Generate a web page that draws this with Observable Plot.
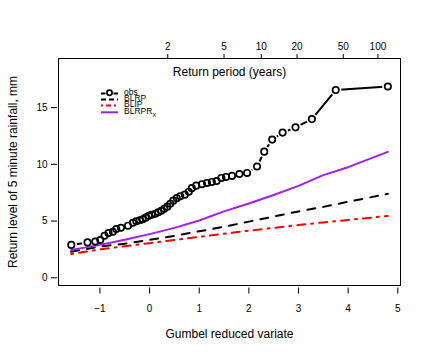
<!DOCTYPE html>
<html><head><meta charset="utf-8">
<script src="https://cdn.jsdelivr.net/npm/d3@7"></script>
<script src="https://cdn.jsdelivr.net/npm/@observablehq/plot@0.6"></script>
<style>body{margin:0;background:#fff} #chart{position:relative;width:431px;height:359px}</style>
</head><body><div id="chart"></div>
<script>
// Observed annual maxima (Gumbel reduced variate, return level mm)
const obsU = [-1.577,-1.25,-1.095,-0.994,-0.907,-0.827,-0.738,-0.671,-0.577,-0.435,-0.335,-0.268,-0.198,-0.137,-0.077,-0.016,0.044,0.115,0.175,0.236,0.296,0.357,0.417,0.478,0.548,0.619,0.71,0.79,0.85,0.94,1.056,1.157,1.254,1.35,1.446,1.54,1.66,1.81,1.964,2.165,2.31,2.47,2.68,2.94,3.27,3.75,4.80];
const obsLevel = [2.90,3.12,3.20,3.33,3.71,3.95,4.06,4.30,4.41,4.59,4.85,4.99,5.07,5.16,5.30,5.47,5.56,5.65,5.78,5.91,6.09,6.27,6.53,6.80,7.02,7.19,7.33,7.59,7.90,8.12,8.25,8.36,8.45,8.53,8.80,8.89,8.98,9.15,9.24,9.81,11.12,12.18,12.80,13.26,13.99,16.55,16.86];
// Fitted model curves
const fitU = [-1.58,-1,-0.5,0,0.5,1,1.5,2,2.5,3,3.5,4,4.8];
const blrpLevel = [2.3,2.75,3.0,3.35,3.7,4.1,4.5,4.95,5.4,5.85,6.25,6.7,7.4];
const blipLevel = [2.1,2.5,2.78,3.05,3.33,3.6,3.88,4.15,4.4,4.65,4.88,5.1,5.45];
const blrprxLevel = [2.45,2.9,3.35,3.85,4.4,5.05,5.85,6.55,7.3,8.1,9.05,9.75,11.1];
const seriesNames = ["obs","BLRP","BLIP","BLRPR"];
const xTicks = [-1,0,1,2,3,4,5];
const yTicks = [0,5,10,15];
const periodTicks = [2,5,10,20,50,100];

const gumbel = T => -Math.log(-Math.log(1 - 1/T));
const periodOf = u => Math.round(1/(1 - Math.exp(-Math.exp(-u))));

const obs = obsU.map((u,i) => ({u, v: obsLevel[i]}));
const mk = arr => fitU.map((u,i) => ({u, v: arr[i]}));
const blrp = mk(blrpLevel), blip = mk(blipLevel), blrprx = mk(blrprxLevel);

const font = "'Liberation Sans', Arial, Helvetica, sans-serif";
const plot = Plot.plot({
  width: 431, height: 359,
  marginLeft: 58, marginRight: 31, marginTop: 58, marginBottom: 74,
  style: {fontFamily: font, fontSize: "10px", background: "#fff", color: "#000", overflow: "visible"},
  x: {domain: [-1.835, 5.055]},
  y: {domain: [-0.68, 19.33]},
  marks: [
    Plot.frame({stroke: "#000", strokeWidth: 1}),
    Plot.axisX(xTicks, {anchor: "bottom", tickSize: 6, dy: 2.5, tickPadding: 11, label: null, fontSize: 10}),
    Plot.axisX(periodTicks.map(gumbel), {anchor: "top", tickSize: 5, tickPadding: 4, label: null, fontSize: 10, tickFormat: periodOf}),
    Plot.axisY(yTicks, {anchor: "left", tickSize: 6, dx: -1, tickPadding: 4, label: null, fontSize: 10}),
    Plot.text(["Gumbel reduced variate"], {frameAnchor: "bottom", dy: 52, fontSize: 12}),
    Plot.text(["Return period (years)"], {frameAnchor: "top", dy: 8.7, fontSize: 12}),
    Plot.text(["Return level of 5 minute rainfall, mm"], {frameAnchor: "left", dx: -45, rotate: -90, textAnchor: "middle", fontSize: 12}),
    Plot.line(obs, {x: "u", y: "v", stroke: "#000", strokeWidth: 2}),
    Plot.dot(obs, {x: "u", y: "v", r: 3.2, fill: "#fff", stroke: "#fff", strokeWidth: 5}),
    Plot.line(blip, {x: "u", y: "v", stroke: "#ff0000", strokeWidth: 2, strokeDasharray: "2,6,8,6"}),
    Plot.line(blrp, {x: "u", y: "v", stroke: "#000", strokeWidth: 2, strokeDasharray: "8,8"}),
    Plot.line(blrprx, {x: "u", y: "v", stroke: "#A020F0", strokeWidth: 2}),
    Plot.dot(obs, {x: "u", y: "v", r: 3.2, fill: "none", stroke: "#000", strokeWidth: 1.7})
  ]
});
document.getElementById("chart").appendChild(plot);

// Legend (top-left inside the plot)
const svg = d3.select(plot);
const lg = svg.append("g").attr("font-family", font).attr("font-size", 8.5).attr("text-anchor", "start");
const items = [
  {name: seriesNames[0], ly: 93.5, ty: 92.5, stroke: "#000", dash: null, dot: true},
  {name: seriesNames[1], ly: 99.5, ty: 98.5, stroke: "#000", dash: "5,3"},
  {name: seriesNames[2], ly: 105.5, ty: 104.5, stroke: "#ff0000", dash: "2,3,5,3"},
  {name: seriesNames[3], ly: 112.3, ty: 111.5, stroke: "#A020F0", dash: null, sub: "X"}
];
items.forEach(it => {
  if (it.dot) {
    lg.append("line").attr("x1",101).attr("x2",105.5).attr("y1",it.ly).attr("y2",it.ly).attr("stroke","#000").attr("stroke-width",2);
    lg.append("line").attr("x1",113.5).attr("x2",118).attr("y1",it.ly).attr("y2",it.ly).attr("stroke","#000").attr("stroke-width",2);
    lg.append("circle").attr("cx",109.5).attr("cy",it.ly-0.8).attr("r",2.6).attr("fill","none").attr("stroke","#000").attr("stroke-width",1.7);
  } else {
    lg.append("line").attr("x1",101).attr("x2",118).attr("y1",it.ly).attr("y2",it.ly)
      .attr("stroke",it.stroke).attr("stroke-width",2).attr("stroke-dasharray",it.dash);
  }
  const t = lg.append("text").attr("x",124).attr("y",it.ty).attr("dy","0.35em").attr("text-anchor","start");
  t.append("tspan").text(it.name);
  if (it.sub) t.append("tspan").attr("font-size",6).attr("dy","2.5").text(it.sub);
});
</script>
</body></html>
